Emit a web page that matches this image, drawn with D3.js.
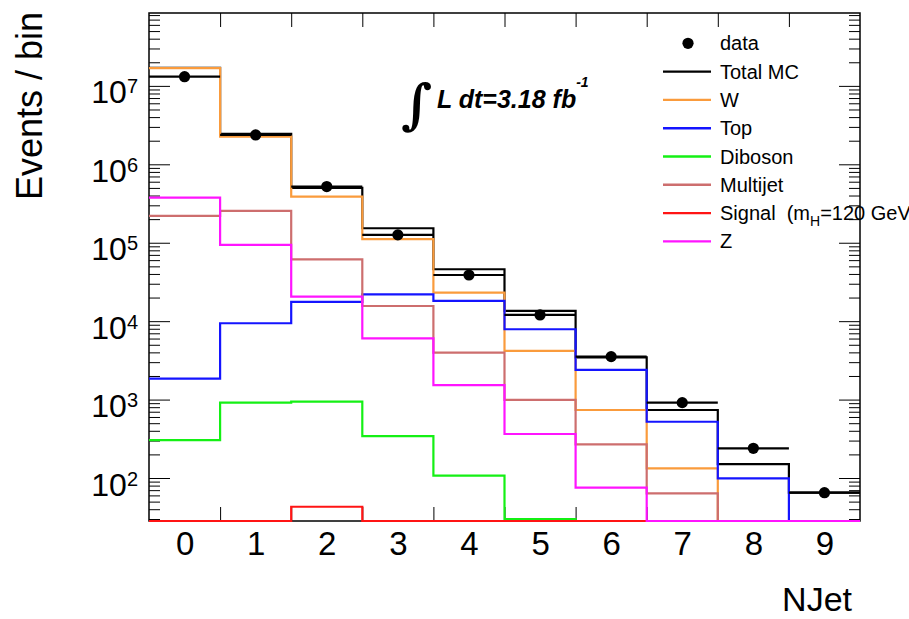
<!DOCTYPE html>
<html>
<head>
<meta charset="utf-8">
<script src="https://cdn.jsdelivr.net/npm/d3@7"></script>
<style>
  html, body { margin: 0; padding: 0; background: #fff; }
  svg { display: block; font-family: "Liberation Sans", Arial, Helvetica, sans-serif; }
</style>
</head>
<body>
<svg id="chart" width="909" height="619"></svg>
<script>
// ---------- data ----------
const categories = ["0", "1", "2", "3", "4", "5", "6", "7", "8", "9"];
const dataCounts = [1.31e7, 2.37e6, 5.2e5, 1.26e5, 3.88e4, 1.2e4, 3530, 914, 239, 65];
const totalMC    = [1.70e7, 2.45e6, 5.0e5, 1.53e5, 4.59e4, 1.35e4, 3460, 736, 150, 65];
const wJets      = [1.68e7, 2.25e6, 3.87e5, 1.11e5, 2.31e4, 4170, 736, 133, 0, 0];
const topQuark   = [1850, 9400, 1.76e4, 2.2e4, 1.81e4, 7880, 2390, 522, 99, 0];
const diboson    = [305, 914, 940, 343, 107, 30, 0, 0, 0, 0];
const multijet   = [2.2e5, 2.55e5, 6.15e4, 1.56e4, 3960, 989, 269, 63.8, 0, 0];
const signal     = [0, 0, 43, 0, 0, 0, 0, 0, 0, 0];
const zBoson     = [3.76e5, 9.37e4, 2.06e4, 6050, 1530, 364, 75.2, 0, 0, 0];

const majorTicks = [1e2, 1e3, 1e4, 1e5, 1e6, 1e7];
const majorExps  = ["2", "3", "4", "5", "6", "7"];
const yDomain = [28.3, 8.5e7];

const legendLabels = ["data", "Total MC", "W", "Top", "Diboson", "Multijet", "Signal", "Z"];

// ---------- layout ----------
const svg = d3.select("#chart");
const L = 149, R = 860, T = 13, B = 521;

const x = d3.scaleLinear().domain([-0.5, 9.5]).range([L, R]);
const y = d3.scaleLog().domain(yDomain).range([B, T]);

const edges = d3.range(-0.5, 10, 1);
const centers = d3.range(0, 10, 1);
const minorTicks = [];
for (let e = 1; e <= 7; e++) {
  for (let m = 2; m <= 9; m++) {
    const v = m * Math.pow(10, e);
    if (v >= yDomain[0] && v <= yDomain[1]) minorTicks.push(v);
  }
}

const yc = v => y(Math.max(v, yDomain[0]));

// ---------- axes ----------
function styleAxis(g) {
  g.select(".domain").remove();
  g.selectAll(".tick line").attr("stroke", "#000").attr("stroke-width", 1);
}

// frame
svg.append("rect").attr("x", L).attr("y", T).attr("width", R - L).attr("height", B - T)
  .attr("fill", "none").attr("stroke", "#000").attr("stroke-width", 1.5);

// left major with labels
const gLeft = svg.append("g").attr("transform", `translate(${L},0)`)
  .call(d3.axisLeft(y).tickValues(majorTicks).tickSizeInner(-21).tickSizeOuter(0).tickPadding(11).tickFormat(""))
  .call(styleAxis);
gLeft.selectAll(".tick text")
  .attr("font-size", 32)
  .attr("font-family", "'Liberation Sans', Arial, sans-serif")
  .attr("fill", "#000")
  .attr("dy", 17)
  .each(function(d, i) {
    const t = d3.select(this);
    t.text(null);
    t.append("tspan").text("10");
    t.append("tspan").attr("font-size", 20).attr("dy", -10).text(majorExps[i]);
  });
svg.append("g").attr("transform", `translate(${L},0)`)
  .call(d3.axisLeft(y).tickValues(minorTicks).tickSizeInner(-11).tickSizeOuter(0).tickFormat(""))
  .call(styleAxis);

// right
svg.append("g").attr("transform", `translate(${R},0)`)
  .call(d3.axisRight(y).tickValues(majorTicks).tickSizeInner(-21).tickSizeOuter(0).tickFormat(""))
  .call(styleAxis);
svg.append("g").attr("transform", `translate(${R},0)`)
  .call(d3.axisRight(y).tickValues(minorTicks).tickSizeInner(-11).tickSizeOuter(0).tickFormat(""))
  .call(styleAxis);

// bottom ticks at bin edges, labels at bin centres
svg.append("g").attr("transform", `translate(0,${B})`)
  .call(d3.axisBottom(x).tickValues(edges.slice(1, -1)).tickSizeInner(-14).tickSizeOuter(0).tickFormat(""))
  .call(styleAxis);
const gXLab = svg.append("g").attr("transform", `translate(0,${B})`)
  .call(d3.axisBottom(x).tickValues(centers).tickSize(0).tickPadding(11).tickFormat(i => categories[i]))
  .call(styleAxis);
gXLab.selectAll(".tick text").attr("font-size", 33)
  .attr("font-family", "'Liberation Sans', Arial, sans-serif").attr("fill", "#000");

// top
svg.append("g").attr("transform", `translate(0,${T})`)
  .call(d3.axisTop(x).tickValues(edges.slice(1, -1)).tickSizeInner(-14).tickSizeOuter(0).tickFormat(""))
  .call(styleAxis);

// ---------- histograms ----------
const series = [
  { name: "Total MC", values: totalMC, color: "#000000" },
  { name: "W", values: wJets, color: "#fa9b3c" },
  { name: "Top", values: topQuark, color: "#1414ff" },
  { name: "Diboson", values: diboson, color: "#14f014" },
  { name: "Multijet", values: multijet, color: "#cd6e6e" },
  { name: "Signal", values: signal, color: "#ff1414" },
  { name: "Z", values: zBoson, color: "#ff14ff" }
];

const stepLine = d3.line().x(d => d[0]).y(d => d[1]).curve(d3.curveStepAfter);

const gHist = svg.append("g");
series.forEach(s => {
  const pts = s.values.map((v, i) => [x(i - 0.5), yc(v)]);
  pts.push([x(9.5), yc(s.values[s.values.length - 1])]);
  gHist.append("path")
    .attr("d", stepLine(pts))
    .attr("fill", "none")
    .attr("stroke", s.color)
    .attr("stroke-width", 2.2);
});

// ---------- data points ----------
const gData = svg.append("g");
dataCounts.forEach((v, i) => {
  gData.append("line")
    .attr("x1", x(i - 0.5)).attr("x2", x(i + 0.5))
    .attr("y1", y(v)).attr("y2", y(v))
    .attr("stroke", "#000").attr("stroke-width", 2.2);
  gData.append("circle")
    .attr("cx", x(i)).attr("cy", y(v)).attr("r", 5.6)
    .attr("fill", "#000");
});

// ---------- titles ----------
svg.append("text").attr("transform", "translate(42,12) rotate(-90)")
  .attr("text-anchor", "end").attr("font-size", 36).attr("fill", "#000")
  .text("Events / bin");
svg.append("text").attr("x", 852).attr("y", 611)
  .attr("text-anchor", "end").attr("font-size", 34).attr("fill", "#000")
  .text("NJet");

// ---------- luminosity label ----------
svg.append("text").attr("x", 401).attr("y", 123)
  .attr("font-family", "'DejaVu Serif', serif").attr("font-style", "italic").attr("font-weight", "bold")
  .attr("font-size", 54).attr("fill", "#000").text("\u222B");
const lumi = svg.append("text").attr("x", 437).attr("y", 108)
  .attr("font-size", 25).attr("font-weight", "bold").attr("font-style", "italic").attr("fill", "#000");
lumi.append("tspan").text("L dt=3.18 fb");
lumi.append("tspan").attr("font-size", 14).attr("dy", -21).text("-1");

// ---------- legend ----------
const legY0 = 43.3, legDY = 28.3;
const legColors = ["#000", "#000", "#fa9b3c", "#1414ff", "#14f014", "#cd6e6e", "#ff1414", "#ff14ff"];
const gLeg = svg.append("g");
legendLabels.forEach((lab, i) => {
  const yy = legY0 + i * legDY;
  if (i === 0) {
    gLeg.append("circle").attr("cx", 688).attr("cy", yy).attr("r", 5.6).attr("fill", "#000");
  } else {
    gLeg.append("line").attr("x1", 663).attr("x2", 711).attr("y1", yy).attr("y2", yy)
      .attr("stroke", legColors[i]).attr("stroke-width", 2.4);
  }
  const t = gLeg.append("text").attr("x", 720).attr("y", yy + 7)
    .attr("font-size", 20).attr("fill", "#000").style("white-space", "pre");
  if (lab === "Signal") {
    t.append("tspan").text("Signal  (m");
    t.append("tspan").attr("font-size", 14).attr("dy", 6).text("H");
    t.append("tspan").attr("dy", -6).text("=120 GeV)");
  } else {
    t.text(lab);
  }
});
</script>
</body>
</html>
